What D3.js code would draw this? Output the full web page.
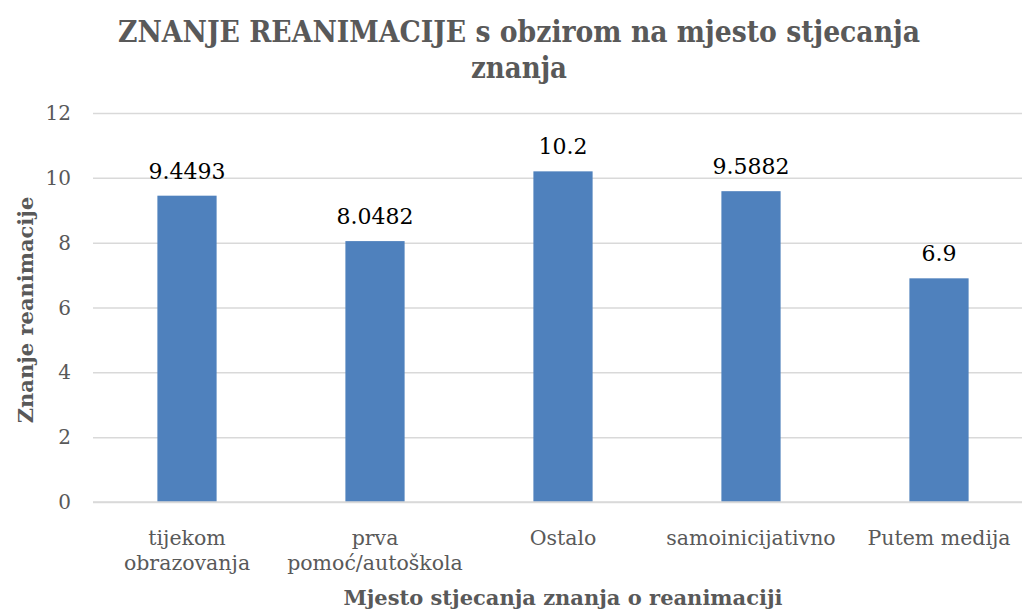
<!DOCTYPE html>
<html>
<head>
<meta charset="utf-8">
<script src="https://cdn.jsdelivr.net/npm/d3@7"></script>
<style>
  body { margin: 0; background: #fff; }
  svg { display: block; }
</style>
</head>
<body>
<svg id="svg0"></svg>
<script>
let categories = [['tijekom', 'obrazovanja'], ['prva', 'pomoć/autoškola'], ['Ostalo'], ['samoinicijativno'], ['Putem medija']];
let values = [9.4493, 8.0482, 10.2, 9.5882, 6.9];
let valueLabels = ['9.4493', '8.0482', '10.2', '9.5882', '6.9'];
let yTicks = [0, 2, 4, 6, 8, 10, 12];

let width = 1022;
let height = 613;
let margin = {top: 113, right: -11, bottom: 111, left: 93};
let plotW = width - margin.left - margin.right;
let plotH = height - margin.top - margin.bottom;
let grey = '#595959';
let serif = '"DejaVu Serif", serif';

let svg = d3.select('#svg0').attr('width', width).attr('height', height);

let keys = categories.map(c => c.join(' '));
let xScale = d3.scaleBand().domain(keys).range([0, plotW]).paddingInner(0.685).paddingOuter(0.3425);
let yScale = d3.scaleLinear().domain([0, 12]).range([plotH, 0]);

let g = svg.append('g').attr('transform', 'translate(' + margin.left + ', ' + margin.top + ')');

// gridlines
g.append('g').attr('class', 'grid')
    .call(d3.axisLeft(yScale).tickValues(yTicks).tickSize(-plotW).tickFormat(''))
    .call(a => a.select('.domain').remove())
    .selectAll('line').style('stroke', '#d9d9d9').style('stroke-width', '1.5px');

// y tick labels
g.selectAll('.ytick').data(yTicks).enter().append('text')
    .attr('class', 'ytick')
    .attr('x', -22)
    .attr('y', d => yScale(d))
    .attr('dy', '0.35em')
    .text(d => d)
    .style('text-anchor', 'end').style('font-family', serif).style('font-size', '20px').style('fill', grey);

// bars
g.selectAll('rect.bar').data(values).enter().append('rect')
    .attr('class', 'bar')
    .attr('x', (d, i) => xScale(keys[i]))
    .attr('y', d => yScale(d))
    .attr('width', xScale.bandwidth())
    .attr('height', d => plotH - yScale(d))
    .style('fill', '#4f81bd');

// value labels
g.selectAll('.vtext').data(values).enter().append('text')
    .attr('class', 'vtext')
    .attr('x', (d, i) => xScale(keys[i]) + xScale.bandwidth() / 2)
    .attr('y', d => yScale(d) - 17)
    .text((d, i) => valueLabels[i])
    .style('text-anchor', 'middle').style('font-family', serif).style('font-size', '22px').style('fill', '#000');

// x axis line
g.append('line').attr('x1', 0).attr('x2', plotW).attr('y1', plotH).attr('y2', plotH)
    .style('stroke', '#d9d9d9').style('stroke-width', '1.5px');

// x tick labels
let xl = g.selectAll('.xtick').data(categories).enter().append('text')
    .attr('class', 'xtick')
    .attr('x', (d, i) => xScale(keys[i]) + xScale.bandwidth() / 2)
    .attr('y', plotH + 43)
    .style('text-anchor', 'middle').style('font-family', serif).style('font-size', '20.5px').style('fill', grey);
xl.selectAll('tspan').data(d => d).enter().append('tspan')
    .attr('x', function() { return d3.select(this.parentNode).attr('x'); })
    .attr('dy', (d, i) => i === 0 ? 0 : 25)
    .text(d => d);

// axis titles
svg.append('text')
    .attr('x', 563).attr('y', 605)
    .text('Mjesto stjecanja znanja o reanimaciji')
    .style('text-anchor', 'middle').style('font-family', serif).style('font-weight', 'bold')
    .style('font-size', '21px').style('fill', grey);

svg.append('text')
    .attr('transform', 'translate(33, 310) rotate(-90)')
    .text('Znanje reanimacije')
    .style('text-anchor', 'middle').style('font-family', serif).style('font-weight', 'bold')
    .style('font-size', '21px').style('fill', grey);

// title
svg.append('text')
    .attr('x', 519).attr('y', 42)
    .attr('textLength', 802).attr('lengthAdjust', 'spacingAndGlyphs')
    .text('ZNANJE REANIMACIJE s obzirom na mjesto stjecanja')
    .style('text-anchor', 'middle').style('font-family', serif).style('font-weight', 'bold')
    .style('font-size', '30px').style('fill', grey);
svg.append('text')
    .attr('x', 519).attr('y', 78)
    .attr('textLength', 96).attr('lengthAdjust', 'spacingAndGlyphs')
    .text('znanja')
    .style('text-anchor', 'middle').style('font-family', serif).style('font-weight', 'bold')
    .style('font-size', '30px').style('fill', grey);
</script>
</body>
</html>
